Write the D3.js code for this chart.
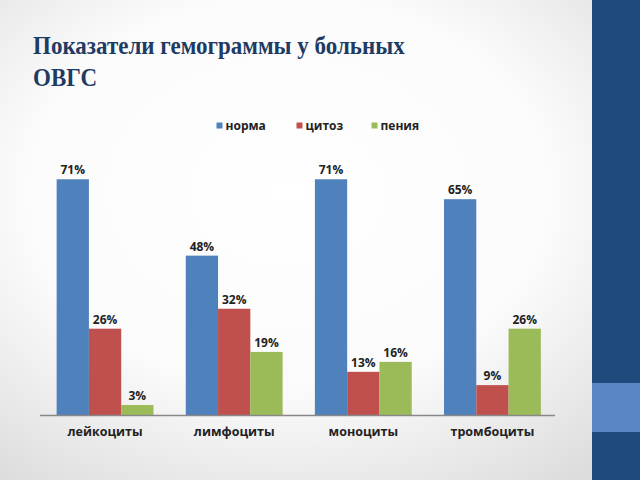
<!DOCTYPE html>
<html>
<head>
<meta charset="utf-8">
<script src="https://cdn.jsdelivr.net/npm/d3@7"></script>
<style>
  body { margin: 0; padding: 0; overflow: hidden; }
  svg { display: block; }
</style>
</head>
<body>
<svg id="chart" width="640" height="480"></svg>
<script>
// Chart data
var categories = ["лейкоциты", "лимфоциты", "моноциты", "тромбоциты"];
var seriesNames = ["норма", "цитоз", "пения"];
var norma = [71, 48, 71, 65];
var citoz = [26, 32, 13, 9];
var penia = [3, 19, 16, 26];
var colors = ["#4F81BD", "#C0504D", "#9BBB59"];

var svg = d3.select("#chart");

// slide background
var defs = svg.append("defs");
var grad = defs.append("radialGradient")
    .attr("id", "bg")
    .attr("cx", "45%").attr("cy", "40%").attr("r", "75%");
grad.append("stop").attr("offset", "0%").attr("stop-color", "#ffffff");
grad.append("stop").attr("offset", "55%").attr("stop-color", "#fbfbfb");
grad.append("stop").attr("offset", "100%").attr("stop-color", "#dcdcdc");

svg.append("rect")
    .attr("width", 640).attr("height", 480)
    .attr("fill", "url(#bg)");

// right band
svg.append("rect")
    .attr("x", 592).attr("y", 0).attr("width", 48).attr("height", 480)
    .attr("fill", "#1F4A7E");
svg.append("rect")
    .attr("x", 592).attr("y", 383).attr("width", 48).attr("height", 49)
    .attr("fill", "#5A87C3");

// title (slightly condensed, like the slide)
var title = svg.append("text")
    .attr("transform", "translate(33,0) scale(0.92,1)")
    .style("font-family", "'Liberation Serif', 'Times New Roman', serif")
    .style("font-weight", "bold")
    .style("font-size", "25px")
    .attr("fill", "#1F3B64");
title.append("tspan").attr("x", 0).attr("y", 54).text("Показатели гемограммы у больных");
title.append("tspan").attr("x", 0).attr("y", 86).text("ОВГС");

// chart
var rows = categories.map(function(c, i) {
    return {cat: c, values: [norma[i], citoz[i], penia[i]]};
});

var x0 = d3.scaleBand()
    .domain(categories)
    .range([40.5, 557])
    .paddingInner(0.25)
    .paddingOuter(0.125);

var x1 = d3.scaleBand()
    .domain(d3.range(seriesNames.length))
    .range([0, x0.bandwidth()]);

var y = d3.scaleLinear()
    .domain([0, 80])
    .range([415, 149.4]);

var g = svg.append("g");

var groups = g.selectAll(".grp")
    .data(rows)
    .enter().append("g")
    .attr("class", "grp")
    .attr("transform", function(d) { return "translate(" + x0(d.cat) + ",0)"; });

groups.selectAll("rect")
    .data(function(d) { return d.values; })
    .enter().append("rect")
    .attr("x", function(d, i) { return x1(i); })
    .attr("y", function(d) { return y(d); })
    .attr("width", x1.bandwidth())
    .attr("height", function(d) { return y(0) - y(d); })
    .attr("fill", function(d, i) { return colors[i]; });

groups.selectAll(".lbl")
    .data(function(d) { return d.values; })
    .enter().append("text")
    .attr("class", "lbl")
    .attr("x", function(d, i) { return x1(i) + x1.bandwidth() / 2; })
    .attr("y", function(d) { return y(d) - 5; })
    .attr("text-anchor", "middle")
    .style("font-family", "'Open Sans', 'DejaVu Sans', sans-serif")
    .style("font-weight", "bold")
    .style("font-size", "12px")
    .attr("fill", "#222")
    .text(function(d) { return d + "%"; });

// x axis
var xAxis = d3.axisBottom(x0).tickSize(0).tickPadding(12);
var ax = svg.append("g")
    .attr("transform", "translate(0," + y(0) + ")")
    .call(xAxis);
ax.select(".domain")
    .attr("d", "M40,0.5H555")
    .attr("stroke", "#888")
    .attr("stroke-width", 1.5);
ax.selectAll("text")
    .style("font-family", "'Open Sans', 'DejaVu Sans', sans-serif")
    .style("font-weight", "bold")
    .style("font-size", "12.5px")
    .attr("fill", "#222");

// legend
var legendX = [216.5, 296.5, 371.5];
var legend = svg.append("g")
    .selectAll("g")
    .data(seriesNames)
    .enter().append("g")
    .attr("transform", function(d, i) { return "translate(" + legendX[i] + ",126)"; });
legend.append("rect")
    .attr("x", 0).attr("y", -3.5)
    .attr("width", 6).attr("height", 6)
    .attr("fill", function(d, i) { return colors[i]; });
legend.append("text")
    .attr("x", 9).attr("y", 4)
    .style("font-family", "'Open Sans', 'DejaVu Sans', sans-serif")
    .style("font-weight", "bold")
    .style("font-size", "12px")
    .attr("fill", "#222")
    .text(function(d) { return d; });
</script>
</body>
</html>
